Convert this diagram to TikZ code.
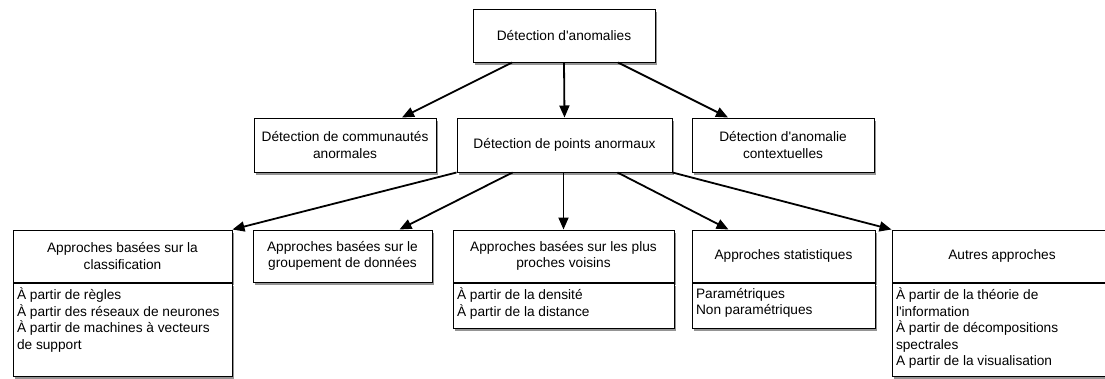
\documentclass[tikz,border=0pt]{standalone}
\usepackage{fontspec}
\setmainfont{Liberation Sans}
\usetikzlibrary{positioning, shadows, arrows.meta}

\tikzset{
  box/.style={draw, fill=white, line width=1pt, align=center, inner sep=3pt,
    font=\fontsize{13.7pt}{16.4pt}\selectfont,
    drop shadow={shadow xshift=1.5pt, shadow yshift=-2.5pt, fill=black!70, opacity=0.6}},
  lst/.style={box, align=left, anchor=north, inner xsep=4pt, inner ysep=5pt},
  arr/.style={line width=1.8pt, -{Triangle[length=12pt,width=10pt]}}
}

\begin{document}
\begin{tikzpicture}[x=1pt, y=-1pt]
\useasboundingbox (0,0) rectangle (1105,378);

\node[box, minimum width=182pt, minimum height=53pt] (anom) at (564,35.5) {Détection d\textquotesingle anomalies};

\node[box, minimum width=182pt, minimum height=54pt] (comm) at (345,145) {Détection de communautés\\anormales};
\node[box, minimum width=215pt, minimum height=54pt] (points) at (564.5,145) {Détection de points anormaux};
\node[box, minimum width=182pt, minimum height=54pt] (ctx) at (783,145) {Détection d\textquotesingle anomalie\\contextuelles};

\node[box, minimum width=219pt, minimum height=52pt] (classif) at (122.5,256) {Approches basées sur la\\classification};
\node[lst, minimum width=219pt] (classifbody) at (classif.south) {\parbox[t][83pt][t]{211pt}{À partir de règles\\À partir des réseaux de neurones\\À partir de machines à vecteurs\\de support}};

\node[box, minimum width=179pt, minimum height=52pt] (group) at (342.5,256) {Approches basées sur le\\groupement de données};

\node[box, minimum width=221pt, minimum height=52pt] (voisins) at (563.5,256) {Approches basées sur les plus\\proches voisins};
\node[lst, minimum width=221pt] (voisinsbody) at (voisins.south) {\parbox[t][35pt][t]{213pt}{À partir de la densité\\À partir de la distance}};

\node[box, minimum width=183pt, minimum height=52pt] (stat) at (783.5,256) {Approches statistiques};
\node[lst, minimum width=183pt] (statbody) at (stat.south) {\parbox[t][35pt][t]{175pt}{Paramétriques\\Non paramétriques}};

\node[box, minimum width=220pt, minimum height=52pt] (autres) at (1002,256) {Autres approches};
\node[lst, minimum width=220pt] (autresbody) at (autres.south) {\parbox[t][83pt][t]{212pt}{À partir de la théorie de\\l\textquotesingle information\\À partir de décompositions\\spectrales\\A partir de la visualisation}};

\draw[arr] ([xshift=-52pt]anom.south) -- ([xshift=57pt]comm.north);
\draw[arr] (anom.south) -- (points.north);
\draw[arr] ([xshift=54pt]anom.south) -- ([xshift=-55pt]ctx.north);

\draw[arr] (points.south west) -- (classif.north east);
\draw[arr] ([xshift=-52pt]points.south) -- ([xshift=57pt]group.north);
\draw[arr] ([xshift=-1pt]points.south) -- (voisins.north);
\draw[arr] ([xshift=53pt]points.south) -- ([xshift=-55pt]stat.north);
\draw[arr] (points.south east) -- (autres.north west);
\end{tikzpicture}
\end{document}
